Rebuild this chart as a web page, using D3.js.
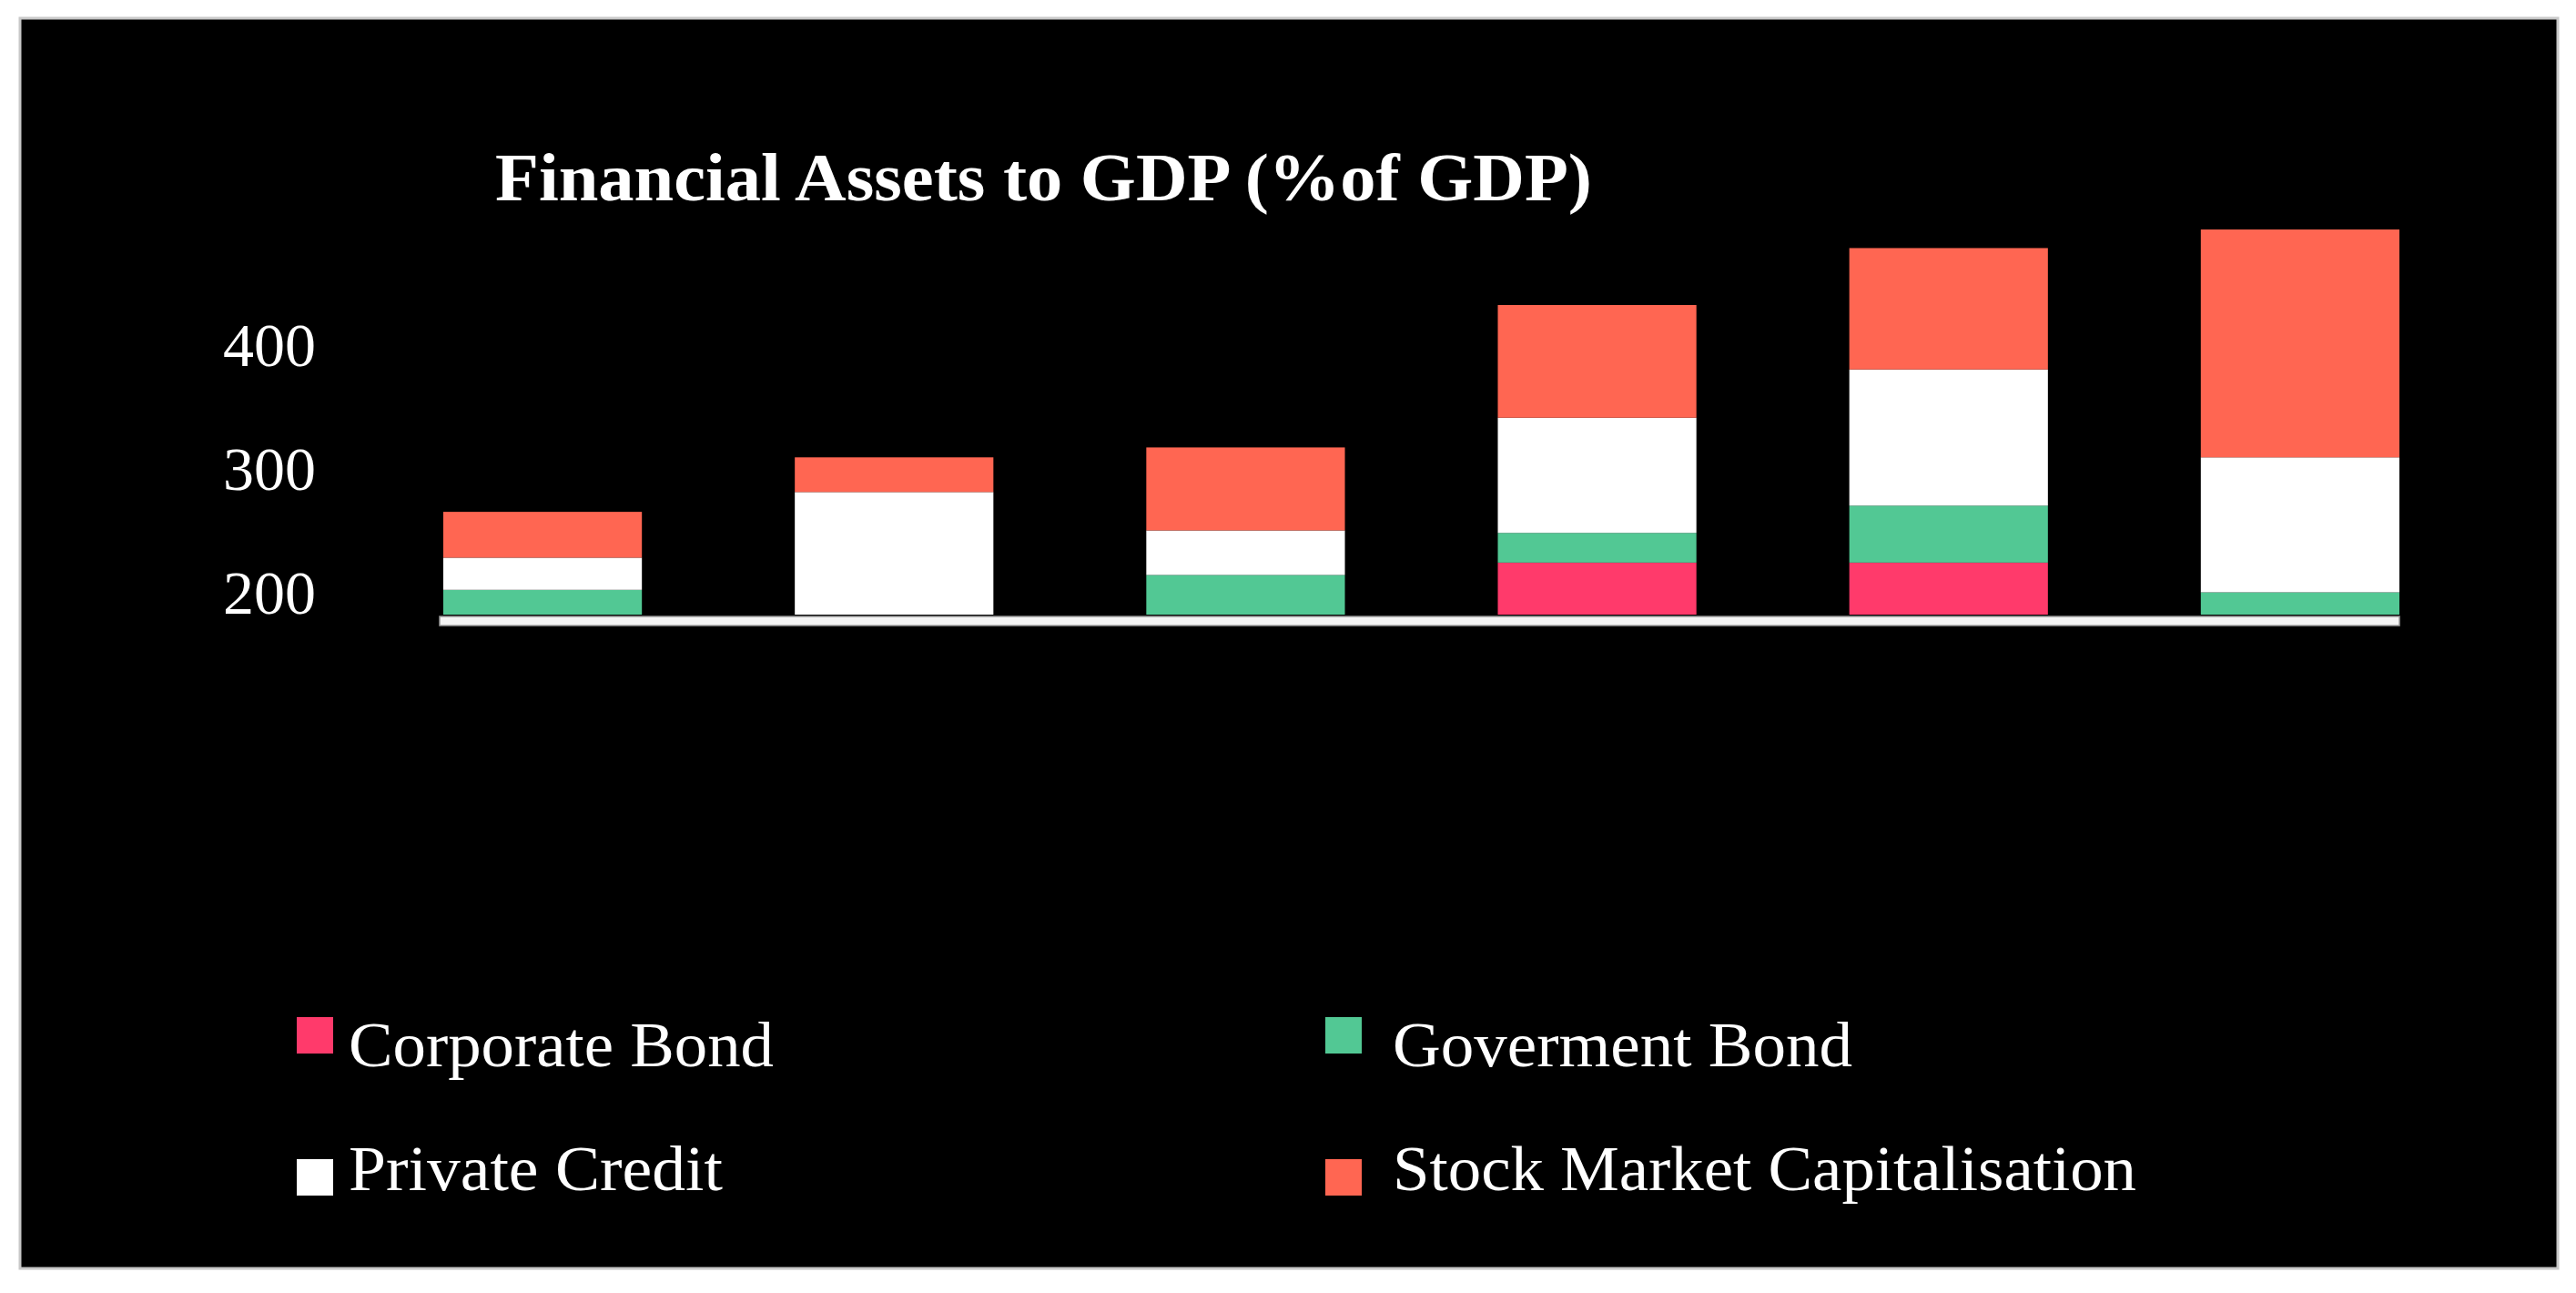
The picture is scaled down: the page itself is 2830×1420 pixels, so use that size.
<!DOCTYPE html>
<html>
<head>
<meta charset="utf-8">
<script src="https://cdn.jsdelivr.net/npm/d3@7"></script>
<style>
  body { margin: 0; background: #fff; }
  text { font-family: "Liberation Serif", "DejaVu Serif", serif; fill: #fff; }
</style>
</head>
<body>
<div id="chart"></div>
<script>
// variables
const WIDTH = 2830
const HEIGHT = 1420

// data (visible part of each segment, stacked from the 200 baseline)
const categories = ["c1", "c2", "c3", "c4", "c5", "c6"];
const seriesNames = ["Corporate Bond", "Goverment Bond", "Private Credit", "Stock Market Capitalisation"];
const corporateBond = [0, 0, 0, 42, 42, 0];
const govermentBond = [20, 0, 32, 24, 46, 18];
const privateCredit = [26, 99, 36, 93, 110, 109];
const stockMarket = [37, 28, 67, 91, 98, 184];
const yTicks = [200, 300, 400];
const AXIS_MIN = 200;
const AXIS_MAX = 500;

const COLORS = ["#ff3a6b", "#52c894", "#ffffff", "#ff6652"];

const rows = categories.map((c, i) => ({
	cat: c,
	[seriesNames[0]]: corporateBond[i],
	[seriesNames[1]]: govermentBond[i],
	[seriesNames[2]]: privateCredit[i],
	[seriesNames[3]]: stockMarket[i]
}));

const SVG = d3.select("#chart")
	.append("svg")
		.attr("width", WIDTH)
		.attr("height", HEIGHT);

// black panel with thin grey border
SVG.append("rect")
	.attr("x", 22).attr("y", 20)
	.attr("width", 2788).attr("height", 1373)
	.attr("fill", "#000")
	.attr("stroke", "#c8c8c8")
	.attr("stroke-width", 3);

// title
SVG.append("text")
	.attr("x", 544).attr("y", 220)
	.attr("font-size", 75)
	.attr("font-weight", "bold")
	.attr("textLength", 1205)
	.attr("lengthAdjust", "spacingAndGlyphs")
	.text("Financial Assets to GDP (%of GDP)");

// scales
const X = d3.scaleBand()
	.domain(categories)
	.range([487, 2636])
	.paddingInner(0.435)
	.paddingOuter(0);

const Y = d3.scaleLinear()
	.domain([AXIS_MIN, AXIS_MAX])
	.range([675, 267]);

// y axis, labels only
const yAxis = SVG.append("g")
	.attr("transform", "translate(347,0)")
	.call(d3.axisLeft(Y).tickValues(yTicks).tickSize(0).tickPadding(0));
yAxis.select(".domain").remove();
yAxis.selectAll("text")
	.attr("font-family", "Liberation Serif, serif")
	.attr("font-size", 68)
	.attr("fill", "#fff")
	.attr("dy", "-2");

// stacked bars
const stacked = d3.stack().keys(seriesNames)(rows);

SVG.append("g")
	.selectAll("g")
	.data(stacked)
	.enter()
	.append("g")
		.attr("fill", (d, i) => COLORS[i])
	.selectAll("rect")
	.data((d) => d.filter((s) => s[1] > s[0]))
	.enter()
	.append("rect")
		.attr("x", (d) => X(d.data.cat))
		.attr("width", X.bandwidth())
		.attr("y", (d) => Y(AXIS_MIN + d[1]))
		.attr("height", (d) => Y(AXIS_MIN + d[0]) - Y(AXIS_MIN + d[1]));

// base line
SVG.append("rect")
	.attr("x", X.range()[0] - 4)
	.attr("y", Y(AXIS_MIN) + 2)
	.attr("width", X.range()[1] - X.range()[0] + 4)
	.attr("height", 10)
	.attr("fill", "#f4f4f4")
	.attr("stroke", "#9a9a9a")
	.attr("stroke-width", 1.5);

// legend
const LEGEND = [
	{x: 326, y: 1117, tx: 383, base: 1171, w: 467},
	{x: 1456, y: 1117, tx: 1530, base: 1171, w: 505},
	{x: 326, y: 1273, tx: 383, base: 1307, w: 411},
	{x: 1456, y: 1273, tx: 1530, base: 1307, w: 817}
];

const leg = SVG.append("g")
	.selectAll("g")
	.data(seriesNames)
	.enter()
	.append("g");

leg.append("rect")
	.attr("x", (d, i) => LEGEND[i].x)
	.attr("y", (d, i) => LEGEND[i].y)
	.attr("width", 40)
	.attr("height", 40)
	.attr("fill", (d, i) => COLORS[i]);

leg.append("text")
	.attr("x", (d, i) => LEGEND[i].tx)
	.attr("y", (d, i) => LEGEND[i].base)
	.attr("font-size", 69)
	.attr("textLength", (d, i) => LEGEND[i].w)
	.attr("lengthAdjust", "spacingAndGlyphs")
	.text((d) => d);
</script>
</body>
</html>
